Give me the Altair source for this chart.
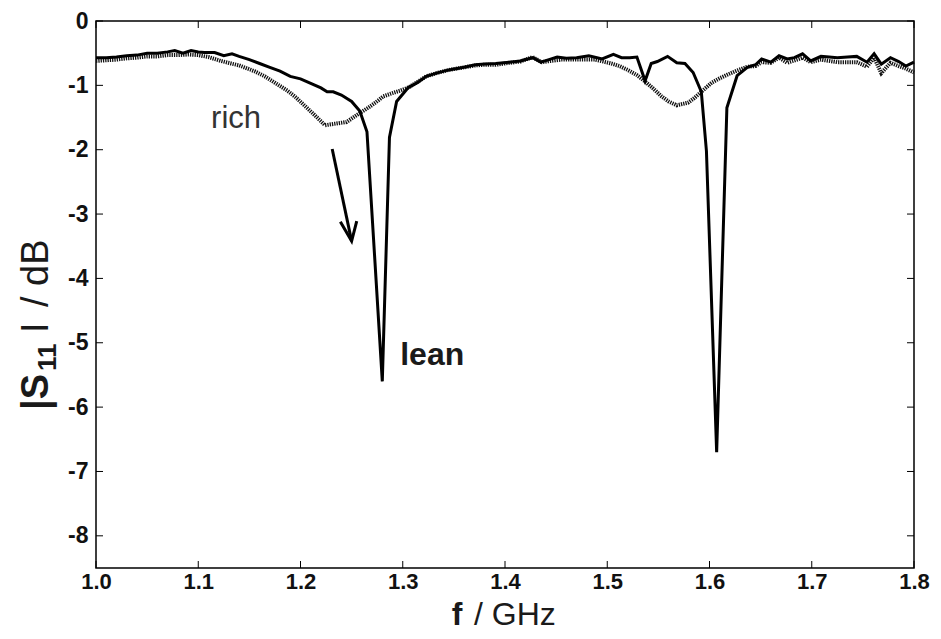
import altair as alt
import pandas as pd

# ---- data ----
lean_f = [1.000, 1.010, 1.020, 1.030, 1.040, 1.050, 1.060, 1.070, 1.077, 1.085,
          1.093, 1.100, 1.106, 1.116, 1.125, 1.133, 1.140, 1.150, 1.160, 1.170,
          1.180, 1.190, 1.200, 1.210, 1.220, 1.226, 1.232, 1.240, 1.250, 1.258,
          1.265, 1.280, 1.287, 1.294, 1.305, 1.315, 1.323, 1.333, 1.345, 1.360,
          1.371, 1.380, 1.391, 1.404, 1.415, 1.427, 1.435, 1.443, 1.451, 1.460,
          1.470, 1.482, 1.495, 1.506, 1.514, 1.522, 1.529, 1.537, 1.543, 1.549,
          1.559, 1.568, 1.576, 1.584, 1.592, 1.597, 1.607, 1.617, 1.627, 1.637,
          1.645, 1.651, 1.660, 1.668, 1.676, 1.683, 1.691, 1.699, 1.709, 1.717,
          1.725, 1.735, 1.744, 1.754, 1.761, 1.768, 1.777, 1.785, 1.792, 1.800]
lean_db = [-0.57, -0.57, -0.56, -0.54, -0.53, -0.50, -0.50, -0.48, -0.46, -0.50,
           -0.46, -0.48, -0.49, -0.49, -0.54, -0.51, -0.55, -0.60, -0.66, -0.72,
           -0.78, -0.86, -0.90, -0.97, -1.04, -1.10, -1.10, -1.15, -1.25, -1.40,
           -1.72, -5.60, -1.81, -1.25, -1.04, -0.95, -0.86, -0.81, -0.76, -0.72,
           -0.68, -0.67, -0.66, -0.64, -0.62, -0.57, -0.64, -0.60, -0.56, -0.58,
           -0.57, -0.54, -0.59, -0.52, -0.57, -0.57, -0.56, -0.93, -0.66, -0.63,
           -0.55, -0.65, -0.66, -0.80, -1.10, -2.02, -6.70, -1.35, -0.85, -0.72,
           -0.68, -0.59, -0.64, -0.54, -0.59, -0.57, -0.51, -0.62, -0.55, -0.56,
           -0.57, -0.56, -0.55, -0.64, -0.51, -0.67, -0.57, -0.63, -0.70, -0.64]

rich_f = [1.000, 1.010, 1.020, 1.030, 1.040, 1.050, 1.060, 1.070, 1.080, 1.090,
          1.100, 1.110, 1.122, 1.132, 1.140, 1.155, 1.165, 1.175, 1.187, 1.195,
          1.203, 1.213, 1.224, 1.232, 1.245, 1.258, 1.266, 1.274, 1.281, 1.290,
          1.298, 1.306, 1.315, 1.323, 1.333, 1.345, 1.360, 1.371, 1.380, 1.391,
          1.404, 1.415, 1.427, 1.436, 1.445, 1.455, 1.470, 1.488, 1.504, 1.512,
          1.520, 1.529, 1.537, 1.545, 1.553, 1.560, 1.568, 1.579, 1.585, 1.592,
          1.602, 1.610, 1.618, 1.627, 1.637, 1.645, 1.651, 1.660, 1.668, 1.676,
          1.691, 1.699, 1.709, 1.725, 1.744, 1.754, 1.761, 1.768, 1.777, 1.785,
          1.792, 1.800]
rich_db = [-0.62, -0.61, -0.60, -0.58, -0.57, -0.55, -0.55, -0.53, -0.53, -0.52,
           -0.53, -0.56, -0.62, -0.66, -0.69, -0.78, -0.86, -0.96, -1.08, -1.18,
           -1.30, -1.45, -1.62, -1.60, -1.57, -1.43, -1.35, -1.26, -1.17, -1.12,
           -1.08, -1.03, -0.94, -0.86, -0.81, -0.76, -0.72, -0.69, -0.68, -0.68,
           -0.65, -0.63, -0.56, -0.64, -0.62, -0.60, -0.60, -0.60, -0.66, -0.70,
           -0.76, -0.84, -0.94, -1.05, -1.17, -1.25, -1.31, -1.27, -1.20, -1.10,
           -0.96, -0.89, -0.83, -0.77, -0.71, -0.70, -0.64, -0.65, -0.57, -0.65,
           -0.57, -0.64, -0.60, -0.64, -0.64, -0.71, -0.57, -0.81, -0.65, -0.70,
           -0.74, -0.80]

x_ticks = [1.0, 1.1, 1.2, 1.3, 1.4, 1.5, 1.6, 1.7, 1.8]
y_ticks = [0, -1, -2, -3, -4, -5, -6, -7, -8]

arrow_f = [1.231, 1.250]
arrow_db = [-1.99, -3.42]
head_f = [1.239, 1.250, 1.255]
head_db = [-3.12, -3.42, -3.11]

label_text = ["rich", "lean"]
label_f = [1.137, 1.2975]
label_db = [-1.53, -5.19]

# ---- chart ----
W, H = 818, 547
FONT = "Liberation Sans"
xs = alt.Scale(domain=[1.0, 1.8], nice=False, zero=False)
ys = alt.Scale(domain=[-8.5, 0], nice=False, zero=False)

lean = pd.DataFrame({"f": lean_f, "db": lean_db})
rich = pd.DataFrame({"f": rich_f, "db": rich_db})

xaxis = alt.Axis(values=x_ticks, format=".1f", labelFont=FONT, labelFontSize=22,
                 labelFontWeight="bold", labelColor="#111111", ticks=False,
                 domain=False, grid=False, title=None, labelPadding=3,
                 labelFlush=False)
yaxis = alt.Axis(values=y_ticks, labelFont=FONT, labelFontSize=23,
                 labelExpr="datum.value == 0 ? '0' : '-' + format(abs(datum.value), 'd')",
                 labelFontWeight="bold", labelColor="#111111", ticks=False,
                 domain=False, grid=False, title=None, labelPadding=8)


def X(field="f"):
    return alt.X(f"{field}:Q", scale=xs, axis=xaxis)


def Y(field="db"):
    return alt.Y(f"{field}:Q", scale=ys, axis=yaxis)


rich_line = alt.Chart(rich).mark_line(
    color="#111111", strokeWidth=4, strokeDash=[1.3, 1]
).encode(x=X(), y=Y())

lean_line = alt.Chart(lean).mark_line(color="black", strokeWidth=3).encode(x=X(), y=Y())

arrow = alt.Chart(pd.DataFrame({"f": arrow_f, "db": arrow_db})).mark_line(
    color="black", strokeWidth=3
).encode(x=X(), y=Y())

head = alt.Chart(pd.DataFrame({"f": head_f, "db": head_db})).mark_line(
    color="black", strokeWidth=3
).encode(x=X(), y=Y())

lbl = pd.DataFrame({"t": label_text, "f": label_f, "db": label_db})
rich_lbl = alt.Chart(lbl[lbl.t == "rich"]).mark_text(
    font=FONT, fontSize=31, color="#333333", align="center", baseline="middle"
).encode(x=X(), y=Y(), text="t:N")
lean_lbl = alt.Chart(lbl[lbl.t == "lean"]).mark_text(
    font=FONT, fontSize=32, fontWeight="bold", color="#1a1a1a", align="left",
    baseline="middle"
).encode(x=X(), y=Y(), text="t:N")

# inward tick marks on all four sides
xt = pd.DataFrame({"f": x_ticks})
yt = pd.DataFrame({"db": y_ticks})
TL = 7
xt_bot = alt.Chart(xt).mark_rule(color="black", strokeWidth=1).encode(
    x=X(), y=alt.value(H - TL), y2=alt.value(H))
xt_top = alt.Chart(xt).mark_rule(color="black", strokeWidth=1).encode(
    x=X(), y=alt.value(0), y2=alt.value(TL))
yt_left = alt.Chart(yt).mark_rule(color="black", strokeWidth=1).encode(
    y=Y(), x=alt.value(0), x2=alt.value(TL))
yt_right = alt.Chart(yt).mark_rule(color="black", strokeWidth=1).encode(
    y=Y(), x=alt.value(W - TL), x2=alt.value(W))

one = alt.Data(values=[{"a": 1}])


def txt(text, x, y, size, weight="normal", angle=0, align="left"):
    return alt.Chart(one).mark_text(
        text=text, x=x, y=y, font=FONT, fontSize=size, fontWeight=weight,
        angle=angle, align=align, baseline="middle", color="#1a1a1a"
    ).encode(opacity=alt.value(1))


# x title: bold "f" then " / GHz", centred on the plot
xt1 = txt("f", 361, 594, 32, "bold", align="center")
xt2 = txt("/ GHz", 378, 594, 32, "normal")

# y title: |S11| / dB rotated
YX = -59
yt1 = txt("|S", YX, 389, 38, "bold", angle=270)
yt2 = txt("11", YX + 11, 350, 26, "bold", angle=270)
yt3 = txt("I", YX, 312, 38, "normal", angle=270)
yt4 = txt("/ dB", YX, 286, 38, "normal", angle=270)

chart = alt.layer(
    rich_line, lean_line, arrow, head, rich_lbl, lean_lbl,
    xt_bot, xt_top, yt_left, yt_right,
    xt1, xt2, yt1, yt2, yt3, yt4,
).properties(
    width=W, height=H,
    padding={"left": 88, "top": 13, "right": 17, "bottom": 63},
    autosize=alt.AutoSizeParams(type="none"),
    background="white",
).configure_view(stroke="black", strokeWidth=1.5)

chart.save("out.html", embed_options={"renderer": "svg", "actions": False})
